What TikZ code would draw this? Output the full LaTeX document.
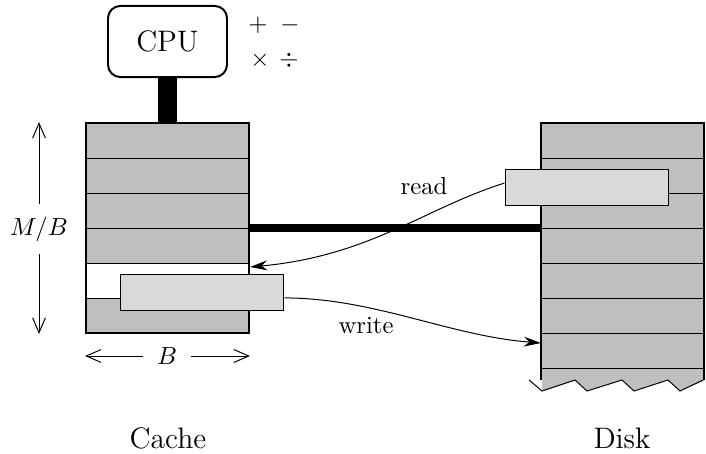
\documentclass[tikz,border=0pt]{standalone}
\usepackage{amsmath,amssymb}
\usepackage{tikz}
\usetikzlibrary{arrows.meta}

\definecolor{cellgray}{gray}{0.75}
\definecolor{blockgray}{gray}{0.85}

\begin{document}
\begin{tikzpicture}[x=0.405pt, y=-0.405pt,
    cell/.style={draw, fill=cellgray},
    block/.style={draw, fill=blockgray, inner sep=0pt, minimum width=66.4pt, minimum height=14.2pt},
    dimarrow/.style={-{Straight Barb[length=6pt,width=5.2pt]}},
    flowarrow/.style={-{Stealth[length=7pt,width=4pt]}},
    big/.style={font=\large}]
    \useasboundingbox (0, 0) rectangle (706, 454);
    % cache rows
    \foreach \i in {0,1,2,3,5}
      \draw[cell] (86, {123+35*\i}) rectangle (249, {158+35*\i});
    \draw (86, 263) rectangle (249, 298);
    \node[draw, thick, inner sep=0pt, minimum width=66pt, minimum height=85pt] (cache) at (167.5, 228) {};
    % disk
    \fill[cellgray] (541, 123) -- (704, 123) -- (704, 381) -- (680, 391) -- (668, 380) -- (634, 391) -- (622, 380) -- (587, 391) -- (575, 380) -- (542, 391) -- cycle;
    \foreach \y in {158,193,...,368}
      \draw (541, \y) -- (704, \y);
    \draw[thick] (541, 380) -- (541, 123) -- (704, 123) -- (704, 380);
    \draw (529, 380) -- (542, 391) -- (575, 380) -- (587, 391) -- (622, 380) -- (634, 391) -- (668, 380) -- (680, 391) -- (703, 380);
    \coordinate (diskbus) at (541, 228);
    \coordinate (rdend) at (250, 267);
    \coordinate (wrend) at (541, 343);
    % cpu and buses
    \node[draw, thick, rounded corners=5pt, minimum width=48.2pt, minimum height=28.8pt, big] (cpu) at (167.5, 41.5) {CPU};
    \draw[line width=7.7pt] (cpu.south) -- (cache.north);
    \draw[line width=3.2pt] (cache.east) -- (diskbus);
    \node (plus) at (258, 25) {$+$};
    \node (minus) at (290, 25) {$-$};
    \node (times) at (260, 60) {$\times$};
    \node (divide) at (289, 60) {$\div$};
    % blocks
    \node[block] (readblk) at (587, 187.5) {};
    \node[block] (writeblk) at (202, 292.5) {};
    \draw[flowarrow] ([yshift=1.8pt]readblk.west) .. controls (425, 208) and (370, 256) .. (rdend);
    \draw[flowarrow] ([yshift=-2.2pt]writeblk.east) .. controls (374, 298) and (450, 336) .. (wrend);
    \node (readlbl) at (424, 186) {read};
    \node (writelbl) at (366, 326) {write};
    % sizes
    \node[minimum height=19.5pt] (mblbl) at (39, 229) {$M/B$};
    \draw[dimarrow] (mblbl.north) -- (mblbl |- cache.north);
    \draw[dimarrow] (mblbl.south) -- (mblbl |- cache.south);
    \node[minimum width=19.4pt] (blbl) at (167, 356) {$B$};
    \draw[dimarrow] (blbl.west) -- (cache.west |- blbl);
    \draw[dimarrow] (blbl.east) -- (cache.east |- blbl);
    \node[big] (cachelbl) at (168, 438) {Cache};
    \node[big] (disklbl) at (622, 438) {Disk};
\end{tikzpicture}
\end{document}
